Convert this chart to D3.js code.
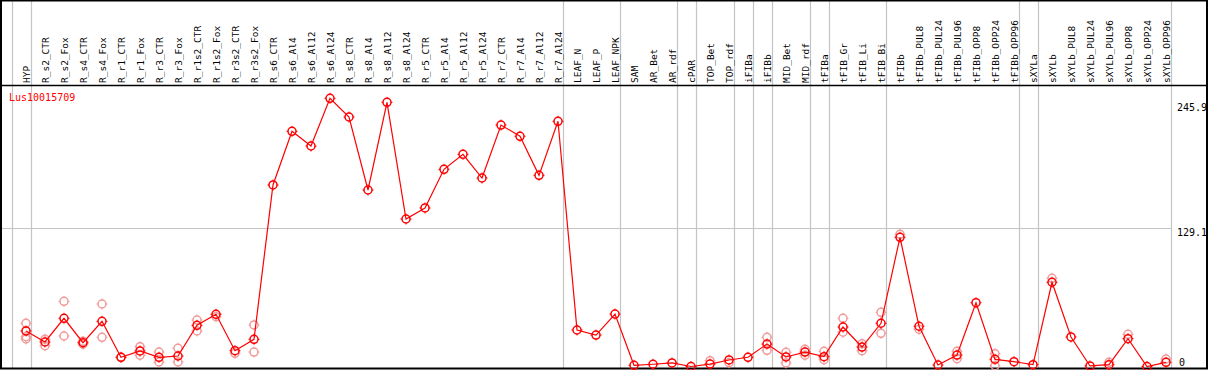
<!DOCTYPE html>
<html>
<head>
<meta charset="utf-8">
<script src="https://cdn.jsdelivr.net/npm/d3@7"></script>
<style>
  body { margin: 0; background: #fff; }
  text { font-family: "DejaVu Sans Mono", monospace; }
</style>
</head>
<body>
<div id="chart"></div>
<script>

// column labels
var samples = ["HYP", "R_s2_CTR", "R_s2_Fox", "R_s4_CTR", "R_s4_Fox", "R_r1_CTR", "R_r1_Fox",
  "R_r3_CTR", "R_r3_Fox", "R_r1s2_CTR", "R_r1s2_Fox", "R_r3s2_CTR", "R_r3s2_Fox",
  "R_s6_CTR", "R_s6_Al4", "R_s6_Al12", "R_s6_Al24", "R_s8_CTR", "R_s8_Al4", "R_s8_Al12", "R_s8_Al24",
  "R_r5_CTR", "R_r5_Al4", "R_r5_Al12", "R_r5_Al24", "R_r7_CTR", "R_r7_Al4", "R_r7_Al12", "R_r7_Al24",
  "LEAF_N", "LEAF_P", "LEAF_NPK", "SAM", "AR_Bet", "AR_rdf", "cPAR", "TOP_Bet", "TOP_rdf",
  "iFIBa", "iFIBb", "MID_Bet", "MID_rdf", "tFIBa", "tFIB_Gr", "tFIB_Li", "tFIB_Bi", "tFIBb",
  "tFIBb_PUL8", "tFIBb_PUL24", "tFIBb_PUL96", "tFIBb_OPP8", "tFIBb_OPP24", "tFIBb_OPP96",
  "sXYLa", "sXYLb", "sXYLb_PUL8", "sXYLb_PUL24", "sXYLb_PUL96", "sXYLb_OPP8", "sXYLb_OPP24", "sXYLb_OPP96"];

// mean expression per column
var means = [33.2, 22.9, 45.0, 22.2, 42.2, 8.6, 14.5, 8.6, 9.8, 38.5, 48.8, 14.8, 25.4,
  169.6, 219.7, 206.0, 250.6, 233.1, 164.9, 246.8, 137.8,
  148.1, 184.2, 198.2, 176.1, 225.6, 215.1, 178.6, 229.1,
  34.1, 29.4, 49.0, 1.1, 2.1, 3.3, 0, 2.3, 6.1,
  8.6, 21.0, 8.9, 13.5, 9.2, 36.9, 18.2, 40.4, 120.7,
  37.6, 1.4, 10.7, 59.6, 6.7, 4.5,
  1.7, 78.7, 27.6, 0.5, 1.7, 26.0, 0, 3.9];

// replicate values per column
var replicates = [[40.4, 27.8, 25.7], [25.4, 19.4], [60.9, 28.5], [23.5, 21.0], [58.4, 27.3], [8.6], [18.5, 10.5],
  [13.5, 4.2], [17.0, 4.2], [43.4, 33.2], [46.5], [12.3], [38.8, 13.5],
  [], [], [], [], [], [], [], [],
  [], [], [], [], [], [], [], [],
  [], [], [], [], [], [], [], [5.4], [3.5],
  [], [27.3, 15.1], [13.3, 3.3], [16.1, 10.5], [14.2, 6.4], [45.0, 32.0], [21.3, 14.8], [50.6, 31.0], [123.5],
  [34.8], [], [14.2, 7.3], [], [12.0, 0.7], [],
  [], [82.4], [], [], [3.9], [30.1], [], [7.0]];

// grey separators sit to the right of these columns (-1 = before the first)
var separators = [-1, 0, 28, 31, 34, 35, 37, 38, 39, 41, 42, 45, 52, 53, 60];

var yTicks = [245.9, 129.1, 0];
var gridTicks = [129.1];
var geneName = "Lus10015709";

var svgWidth = 1209;
var svgHeight = 370;

var svg = d3.select("#chart")
  .append("svg")
  .attr("width", svgWidth)
  .attr("height", svgHeight);

var xScale = d3.scalePoint()
  .domain(samples)
  .range([26, 1166]);
var step = xScale.step();

var yScale = d3.scaleLinear()
  .domain([0, 245.9])
  .range([366.5, 103.3]);

// grey vertical separators
svg.selectAll(".sep")
  .data(separators)
  .enter()
  .append("line")
  .attr("x1", d => Math.round(26 + step * d) + 5.5)
  .attr("x2", d => Math.round(26 + step * d) + 5.5)
  .attr("y1", 0)
  .attr("y2", 369)
  .attr("stroke", "#c4c4c4")
  .attr("stroke-width", 1.2);

// horizontal grid
svg.selectAll(".hgrid")
  .data(gridTicks)
  .enter()
  .append("line")
  .attr("x1", 1)
  .attr("x2", 1172)
  .attr("y1", d => Math.round(yScale(d)) + 0.5)
  .attr("y2", d => Math.round(yScale(d)) + 0.5)
  .attr("stroke", "#c4c4c4")
  .attr("stroke-width", 1.2);

// frame and header separator
svg.append("rect")
  .attr("x", 1)
  .attr("y", 0.5)
  .attr("width", 1206)
  .attr("height", 368)
  .attr("fill", "none")
  .attr("stroke", "#000")
  .attr("stroke-width", 2);
svg.append("line")
  .attr("x1", 1).attr("x2", 1207)
  .attr("y1", 85.5).attr("y2", 85.5)
  .attr("stroke", "#000")
  .attr("stroke-width", 1.6);

// column labels
svg.selectAll(".lab")
  .data(samples)
  .enter()
  .append("text")
  .attr("transform", d => "translate(" + (xScale(d) + 3.5) + ",83) rotate(-90)")
  .attr("font-size", "9.5px")
  .attr("fill", "#000")
  .text(d => d);

// right side values
svg.selectAll(".ytick")
  .data(yTicks)
  .enter()
  .append("text")
  .attr("x", d => d === 0 ? 1179 : 1177)
  .attr("y", d => Math.min(yScale(d) + 8, 366))
  .attr("font-size", "10px")
  .attr("fill", "#000")
  .text(d => d);

// gene name
svg.append("text")
  .attr("x", 9)
  .attr("y", 101)
  .attr("font-size", "10px")
  .attr("fill", "#ff0000")
  .text(geneName);

var plot = svg.append("g");

function marker(g, cx, cy, color) {
  g.append("circle")
    .attr("cx", cx).attr("cy", cy)
    .attr("r", 4)
    .attr("fill", "none")
    .attr("stroke", color)
    .attr("stroke-width", 1.5);
  [[0, -1], [0, 1], [-1, 0], [1, 0]].forEach(function(o) {
    g.append("line")
      .attr("x1", cx + o[0] * 4).attr("y1", cy + o[1] * 4)
      .attr("x2", cx + o[0] * 5.5).attr("y2", cy + o[1] * 5.5)
      .attr("stroke", color)
      .attr("stroke-width", 1);
  });
}

// replicate markers
samples.forEach(function(s, i) {
  replicates[i].forEach(function(v) {
    marker(plot, xScale(s), yScale(v), "#f09a9a");
  });
});

// mean line
var line = d3.line()
  .x((d, i) => xScale(samples[i]))
  .y(d => yScale(d));

plot.append("path")
  .datum(means)
  .attr("d", line)
  .attr("fill", "none")
  .attr("stroke", "#ff0000")
  .attr("stroke-width", 1.2);

// mean markers
means.forEach(function(v, i) {
  marker(plot, xScale(samples[i]), yScale(v), "#ff0000");
});

</script>
</body>
</html>
